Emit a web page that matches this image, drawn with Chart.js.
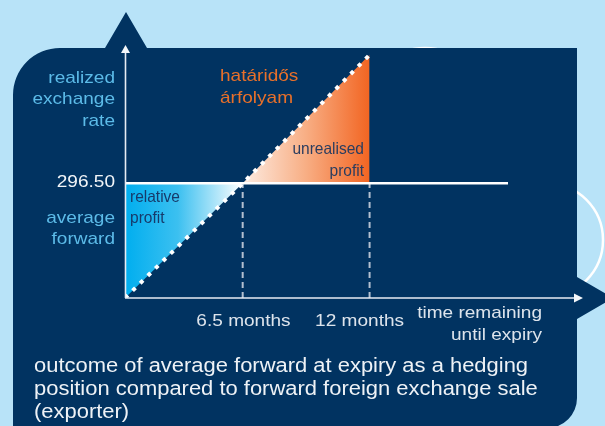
<!DOCTYPE html>
<html lang="en">
<head>
<meta charset="utf-8">
<title>Average forward at expiry</title>
<script src="https://cdn.jsdelivr.net/npm/chart.js@4.4.1/dist/chart.umd.min.js"></script>
<style>
  html, body { margin: 0; padding: 0; background: #b8e3f8; }
  canvas { display: block; }
</style>
</head>
<body>
<canvas id="chart" width="605" height="426"></canvas>
<script>
// ---- data ----------------------------------------------------------------
// time remaining until expiry, in months, and the forward rate along it
const forwardMonths = [1.4, 6.5, 12];
const forwardRates = [291.5, 296.5, 302.1];
// average forward rate and the stretch of time it is drawn over
const averageForwardRate = 296.5;
const averageLineMonths = [1.4, 18];
// marked points on the time axis
const tickMonths = [6.5, 12];
const tickLabels = ['6.5 months', '12 months'];
// axis extents
const monthRange = [1.4, 21.25];
const rateRange = [291.5, 302.53];
// text
const yAxisTitle = ['realized', 'exchange', 'rate'];
const averageLabel = ['average', 'forward'];
const forwardLabel = ['határidős', 'árfolyam'];
const relativeLabel = ['relative', 'profit'];
const unrealisedLabel = ['unrealised', 'profit'];
const xAxisTitle = ['time remaining', 'until expiry'];
const caption = [
  'outcome of average forward at expiry as a hedging',
  'position compared to forward foreign exchange sale',
  '(exporter)'
];

// ---- styling ---------------------------------------------------------------
const NAVY = '#013361';
const SKY = '#b8e3f8';
const FONT = "'Liberation Sans', Arial, Helvetica, sans-serif";
const STRETCH = 1.12;

const toPoints = (xs, ys) => xs.map((x, i) => ({ x, y: ys[i] }));
const forwardLine = toPoints(forwardMonths, forwardRates);
const belowAverage = forwardLine.filter(p => p.y <= averageForwardRate);
const aboveAverage = forwardLine.filter(p => p.y >= averageForwardRate);

function horizontalGradient(chart, points, stops) {
  const { ctx, chartArea, scales } = chart;
  if (!chartArea) return stops[0][1];
  const x0 = scales.x.getPixelForValue(points[0].x);
  const x1 = scales.x.getPixelForValue(points[points.length - 1].x);
  const g = ctx.createLinearGradient(x0, 0, x1, 0);
  stops.forEach(([o, c]) => g.addColorStop(o, c));
  return g;
}

function drawText(ctx, text, x, y, opts) {
  const o = Object.assign({ size: 17, color: '#ffffff', align: 'left', sx: STRETCH }, opts);
  ctx.save();
  ctx.translate(x, y);
  ctx.scale(o.sx, 1);
  ctx.font = o.size + 'px ' + FONT;
  ctx.fillStyle = o.color;
  ctx.textAlign = o.align;
  ctx.textBaseline = 'alphabetic';
  ctx.fillText(text, 0, 0);
  ctx.restore();
}

function drawLines(ctx, lines, x, y0, step, opts) {
  lines.forEach((t, i) => drawText(ctx, t, x, y0 + i * step, opts));
}

// light blue backdrop, decorative rings and the navy panel
const backdrop = {
  id: 'backdrop',
  beforeDraw(chart) {
    const ctx = chart.ctx;
    ctx.save();
    ctx.fillStyle = SKY;
    ctx.fillRect(0, 0, chart.width, chart.height);

    ctx.strokeStyle = '#ffffff';
    ctx.lineWidth = 2.5;
    [[546, 240, 57], [425, 105, 57]].forEach(([cx, cy, r]) => {
      ctx.beginPath();
      ctx.arc(cx, cy, r, 0, Math.PI * 2);
      ctx.stroke();
    });

    ctx.fillStyle = NAVY;
    ctx.beginPath();
    ctx.moveTo(13, 440);
    ctx.lineTo(13, 95);
    ctx.arcTo(13, 48, 60, 48, 47);
    ctx.lineTo(105, 48);
    ctx.lineTo(126, 12);
    ctx.lineTo(147, 48);
    ctx.lineTo(577, 48);
    ctx.lineTo(577, 277);
    ctx.lineTo(613, 298);
    ctx.lineTo(577, 319);
    ctx.lineTo(577, 398);
    ctx.arcTo(577, 428, 547, 428, 30);
    ctx.lineTo(13, 428);
    ctx.closePath();
    ctx.fill();
    ctx.restore();
  }
};

// axis lines with arrow heads
const arrowAxes = {
  id: 'arrowAxes',
  afterDatasetsDraw(chart) {
    const { ctx } = chart;
    const { left, right, top, bottom } = chart.chartArea;
    const ax = left + 0.5;
    ctx.save();
    ctx.strokeStyle = '#e6ecf3';
    ctx.fillStyle = '#f4f7fa';
    ctx.lineWidth = 1.6;
    ctx.beginPath();
    ctx.moveTo(ax, bottom);
    ctx.lineTo(ax, top + 7);
    ctx.moveTo(left, bottom);
    ctx.lineTo(right - 7, bottom);
    ctx.stroke();
    ctx.beginPath();
    ctx.moveTo(ax - 4.5, top + 8);
    ctx.lineTo(ax + 4.5, top + 8);
    ctx.lineTo(ax, top);
    ctx.closePath();
    ctx.moveTo(right - 9, bottom - 4.5);
    ctx.lineTo(right - 9, bottom + 4.5);
    ctx.lineTo(right, bottom);
    ctx.closePath();
    ctx.fill();
    ctx.restore();
  }
};

// labels, tick texts and caption
const annotations = {
  id: 'annotations',
  afterDraw(chart) {
    const { ctx, scales } = chart;
    const x = scales.x, y = scales.y;
    const light = '#5cbbe8';

    drawLines(ctx, yAxisTitle, 115, 82.5, 21.7, { align: 'right', color: light });
    drawText(ctx, averageForwardRate.toFixed(2), 115, y.getPixelForValue(averageForwardRate) + 4,
      { align: 'right', color: '#f2f5f8' });
    drawLines(ctx, averageLabel, 115, 222.7, 21.5, { align: 'right', color: light });

    drawLines(ctx, forwardLabel, 220, 81, 21.5, { color: '#e8702a' });

    // narrow labels inside the shaded areas
    drawLines(ctx, relativeLabel, 130, 201.7, 21.6, { size: 16.5, sx: 0.94, color: '#173a6a' });
    drawLines(ctx, unrealisedLabel, 364, 153.5, 22, { size: 16.5, sx: 0.94, align: 'right', color: '#2b3d5f' });

    const nudge = [0.8, -10];
    tickMonths.forEach((m, i) => {
      drawText(ctx, tickLabels[i], x.getPixelForValue(m) + nudge[i], 326,
        { align: 'center', color: '#dde4ec' });
    });
    drawLines(ctx, xAxisTitle, 542, 318.3, 21.7, { align: 'right', color: '#dde4ec' });

    drawLines(ctx, caption, 34, 371.7, 23.3, { size: 19.6, color: '#eef2f6' });
  }
};

new Chart(document.getElementById('chart'), {
  type: 'line',
  data: {
    datasets: [
      {
        // forward rate curve
        data: forwardLine,
        borderColor: '#ffffff',
        borderWidth: 4,
        borderDash: [4, 6.6],
        borderCapStyle: 'butt',
        fill: false,
        order: 0
      },
      {
        // average forward level
        data: toPoints(averageLineMonths, [averageForwardRate, averageForwardRate]),
        borderColor: '#ffffff',
        borderWidth: 2.5,
        fill: false,
        order: 1
      },
      ...tickMonths.map(m => ({
        data: [{ x: m, y: rateRange[0] }, { x: m, y: averageForwardRate }],
        borderColor: '#b4c0d0',
        borderWidth: 2,
        borderDash: [6, 4],
        fill: false,
        order: 2
      })),
      {
        // relative profit
        data: belowAverage,
        borderWidth: 0,
        borderColor: 'rgba(0,0,0,0)',
        fill: { value: averageForwardRate },
        backgroundColor: c => horizontalGradient(c.chart, belowAverage,
          [[0, '#00aeef'], [0.45, '#3cc0f0'], [1, '#ffffff']]),
        order: 3
      },
      {
        // unrealised profit
        data: aboveAverage,
        borderWidth: 0,
        borderColor: 'rgba(0,0,0,0)',
        fill: { value: averageForwardRate },
        backgroundColor: c => horizontalGradient(c.chart, aboveAverage,
          [[0, '#fdece2'], [0.5, '#f8ae84'], [1, '#f26522']]),
        order: 3
      }
    ]
  },
  options: {
    responsive: false,
    animation: false,
    devicePixelRatio: 1,
    events: [],
    layout: { padding: { left: 125, top: 45, right: 22, bottom: 128 } },
    elements: { line: { tension: 0 }, point: { radius: 0 } },
    plugins: {
      legend: { display: false },
      tooltip: { enabled: false },
      title: { display: false }
    },
    scales: {
      x: { type: 'linear', min: monthRange[0], max: monthRange[1], display: false },
      y: { type: 'linear', min: rateRange[0], max: rateRange[1], display: false }
    }
  },
  plugins: [backdrop, arrowAxes, annotations]
});
</script>
</body>
</html>
